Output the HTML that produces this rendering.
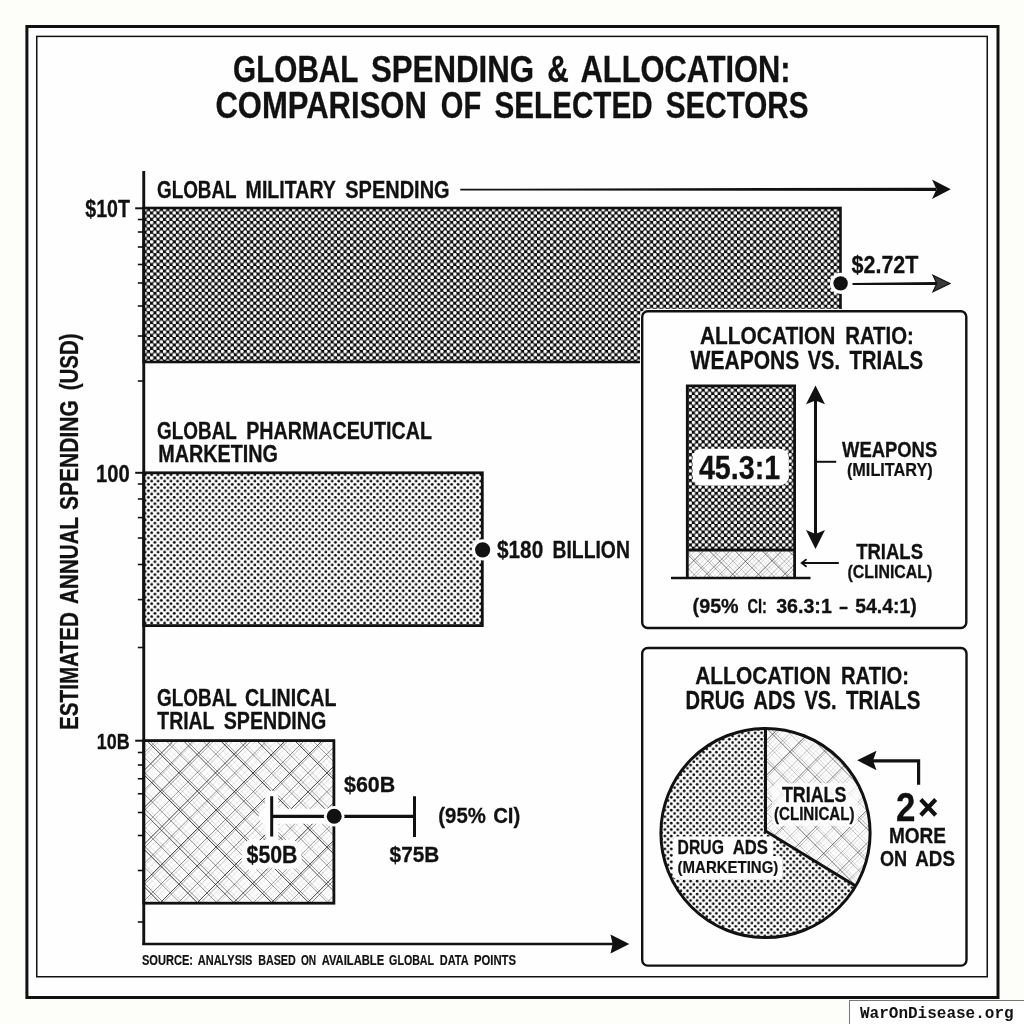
<!DOCTYPE html>
<html><head><meta charset="utf-8"><title>Global Spending &amp; Allocation</title>
<style>
html,body{margin:0;padding:0;background:#fdfdfa;}
body{width:1024px;height:1024px;overflow:hidden;font-family:"Liberation Sans",sans-serif;}
svg{display:block;will-change:transform;}
svg text{font-family:"Liberation Sans",sans-serif;}
.mono{font-family:"Liberation Mono",monospace;}
</style></head><body>
<svg width="1024" height="1024" viewBox="0 0 1024 1024">
<defs>
<pattern id="pMil" x="143.6" y="208" width="6.45" height="6.45" patternUnits="userSpaceOnUse">
<rect width="6.45" height="6.45" fill="#0c0c0c"/>
<circle cx="1.6125" cy="1.6125" r="1.8" fill="#fff"/><circle cx="4.8375" cy="4.8375" r="1.8" fill="#fff"/>
</pattern>
<pattern id="pDot" x="143.6" y="473" width="6.45" height="6.45" patternUnits="userSpaceOnUse">
<rect width="6.45" height="6.45" fill="#fefefe"/>
<circle cx="1.6125" cy="1.6125" r="1.4" fill="#0c0c0c"/><circle cx="4.8375" cy="4.8375" r="1.4" fill="#0c0c0c"/>
</pattern>
<pattern id="pPie" x="660" y="728" width="6.45" height="6.45" patternUnits="userSpaceOnUse">
<rect width="6.45" height="6.45" fill="#fefefe"/>
<circle cx="1.6125" cy="1.6125" r="1.36" fill="#0c0c0c"/><circle cx="4.8375" cy="4.8375" r="1.36" fill="#0c0c0c"/>
</pattern>
<pattern id="pX" width="26.2" height="26.2" patternUnits="userSpaceOnUse" patternTransform="translate(150,745) rotate(45)">
<rect width="26.2" height="26.2" fill="#fefefe"/>
<g stroke="#333" fill="none">
<path d="M1 0V26.2M0 1H26.2" stroke-width="0.85" stroke-opacity="0.8"/>
<path d="M4.2 0V26.2M0 4.2H26.2" stroke-width="0.6" stroke-opacity="0.5"/>
<path d="M8 0V26.2M0 8H26.2" stroke-width="0.5" stroke-opacity="0.3"/>
<path d="M14 0V26.2M0 14H26.2" stroke-width="0.7" stroke-opacity="0.6"/>
<path d="M17.5 0V26.2M0 17.5H26.2" stroke-width="0.5" stroke-opacity="0.35"/>
<path d="M22 0V26.2M0 22H26.2" stroke-width="0.5" stroke-opacity="0.25"/>
</g>
</pattern>
<pattern id="pXs" width="18" height="18" patternUnits="userSpaceOnUse" patternTransform="translate(690,552) rotate(45)">
<rect width="18" height="18" fill="#fefefe"/>
<g stroke="#333" fill="none">
<path d="M1 0V18M0 1H18" stroke-width="0.8" stroke-opacity="0.75"/>
<path d="M4 0V18M0 4H18" stroke-width="0.6" stroke-opacity="0.45"/>
<path d="M9.5 0V18M0 9.5H18" stroke-width="0.7" stroke-opacity="0.55"/>
<path d="M13 0V18M0 13H18" stroke-width="0.5" stroke-opacity="0.3"/>
</g>
</pattern>
</defs>
<rect width="1024" height="1024" fill="#fdfdfa"/>
<rect x="26.9" y="26.5" width="971.1" height="971.0" fill="#fefefe" stroke="#111" stroke-width="3"/>
<rect x="36.75" y="36.4" width="950.5" height="940.35" fill="none" stroke="#111" stroke-width="1.5"/>
<text transform="translate(233.10,81.70) scale(0.7976,1)" font-size="37.24" font-weight="700" fill="#111" stroke="#111" stroke-width="0.3"  word-spacing="2.98">GLOBAL</text>
<text transform="translate(370.90,81.70) scale(0.8397,1)" font-size="37.24" font-weight="700" fill="#111" stroke="#111" stroke-width="0.3"  word-spacing="2.98">SPENDING</text>
<text transform="translate(547.20,81.70) scale(0.8029,1)" font-size="37.24" font-weight="700" fill="#111" stroke="#111" stroke-width="0.3"  word-spacing="2.98">&amp;</text>
<text transform="translate(580.60,81.70) scale(0.8278,1)" font-size="37.24" font-weight="700" fill="#111" stroke="#111" stroke-width="0.3"  word-spacing="2.98">ALLOCATION:</text>
<text transform="translate(215.40,117.95) scale(0.8384,1)" font-size="37.02" font-weight="700" fill="#111" stroke="#111" stroke-width="0.3"  word-spacing="2.96">COMPARISON</text>
<text transform="translate(440.80,117.95) scale(0.7846,1)" font-size="37.02" font-weight="700" fill="#111" stroke="#111" stroke-width="0.3"  word-spacing="2.96">OF</text>
<text transform="translate(494.60,117.95) scale(0.8000,1)" font-size="37.02" font-weight="700" fill="#111" stroke="#111" stroke-width="0.3"  word-spacing="2.96">SELECTED</text>
<text transform="translate(665.70,117.95) scale(0.8012,1)" font-size="37.02" font-weight="700" fill="#111" stroke="#111" stroke-width="0.3"  word-spacing="2.96">SECTORS</text>
<rect x="143.75" y="208" width="696.75" height="154" fill="url(#pMil)" stroke="#111" stroke-width="2.6"/>
<rect x="143.75" y="472.8" width="338.55" height="152.8" fill="url(#pDot)" stroke="#111" stroke-width="2.8"/>
<clipPath id="cClin"><rect x="143.75" y="740.6" width="190.14999999999998" height="162.60000000000002"/></clipPath>
<g clip-path="url(#cClin)"><path d="M143.8 927.0L333.9 1117.2M143.8 872.8L333.9 1063.0M143.8 835.0L333.9 1025.1M143.8 798.4L333.9 988.5M143.8 778.9L333.9 969.1M143.8 761.1L333.9 951.2M143.8 687.0L333.9 877.2M143.8 669.0L333.9 859.2M143.8 634.8L333.9 825.0M143.8 612.9L333.9 803.1M143.8 557.8L333.9 748.0M143.8 538.6L333.9 728.7M143.8 519.6L333.9 709.7M143.8 502.7L333.9 692.8M143.8 784.1L333.9 594.0M143.8 858.7L333.9 668.5M143.8 878.4L333.9 688.3M143.8 914.0L333.9 723.8M143.8 952.2L333.9 762.1M143.8 989.2L333.9 799.0M143.8 1080.3L333.9 890.1" stroke="#1a1a1a" stroke-opacity="0.08" stroke-width="0.52" fill="none"/>
<path d="M143.8 951.5L333.9 1141.7M143.8 914.5L333.9 1104.6M143.8 783.1L333.9 973.2M143.8 767.1L333.9 957.2M143.8 650.5L333.9 840.6M143.8 969.0L333.9 778.9" stroke="#1a1a1a" stroke-opacity="0.09" stroke-width="0.53" fill="none"/>
<path d="M143.8 877.1L333.9 1067.3M143.8 704.5L333.9 894.6M143.8 766.4L333.9 576.2M143.8 778.5L333.9 588.4M143.8 822.1L333.9 631.9" stroke="#1a1a1a" stroke-opacity="0.1" stroke-width="0.53" fill="none"/>
<path d="M143.8 853.5L333.9 1043.6M143.8 819.9L333.9 1010.1M143.8 815.7L333.9 1005.9M143.8 597.7L333.9 787.8M143.8 581.7L333.9 771.9M143.8 927.9L333.9 737.7M143.8 1007.5L333.9 817.4" stroke="#1a1a1a" stroke-opacity="0.11" stroke-width="0.54" fill="none"/>
<path d="M143.8 594.5L333.9 784.7M143.8 711.0L333.9 520.9M143.8 762.0L333.9 571.9M143.8 803.5L333.9 613.4M143.8 841.2L333.9 651.1M143.8 1025.7L333.9 835.6M143.8 1058.5L333.9 868.3M143.8 1075.4L333.9 885.2M143.8 1132.7L333.9 942.5" stroke="#1a1a1a" stroke-opacity="0.12" stroke-width="0.54" fill="none"/>
<path d="M143.8 908.8L333.9 1099.0M143.8 709.7L333.9 899.8M143.8 655.6L333.9 845.8M143.8 508.1L333.9 698.2M143.8 704.7L333.9 514.6M143.8 799.5L333.9 609.3M143.8 1136.3L333.9 946.2" stroke="#1a1a1a" stroke-opacity="0.13" stroke-width="0.54" fill="none"/>
<path d="M143.8 857.2L333.9 1047.4M143.8 724.2L333.9 914.3M143.8 631.1L333.9 821.3M143.8 560.8L333.9 750.9M143.8 837.2L333.9 647.1" stroke="#1a1a1a" stroke-opacity="0.14" stroke-width="0.55" fill="none"/>
<path d="M143.8 619.3L333.9 809.4M143.8 544.9L333.9 735.0M143.8 729.7L333.9 539.6" stroke="#1a1a1a" stroke-opacity="0.15" stroke-width="0.55" fill="none"/>
<path d="M143.8 930.7L333.9 1120.9M143.8 482.6L333.9 672.7M143.8 1000.6L333.9 810.4M143.8 1022.0L333.9 831.9M143.8 1038.9L333.9 848.8M143.8 1043.7L333.9 853.5M143.8 1117.7L333.9 927.6" stroke="#1a1a1a" stroke-opacity="0.16" stroke-width="0.56" fill="none"/>
<path d="M143.8 947.0L333.9 1137.2M143.8 889.9L333.9 1080.1M143.8 742.5L333.9 932.7M143.8 575.8L333.9 765.9M143.8 748.4L333.9 558.3M143.8 815.6L333.9 625.5M143.8 910.1L333.9 720.0M143.8 932.0L333.9 741.8M143.8 948.5L333.9 758.3M143.8 1063.1L333.9 872.9M143.8 1112.8L333.9 922.6" stroke="#1a1a1a" stroke-opacity="0.17" stroke-width="0.56" fill="none"/>
<path d="M143.8 729.5L333.9 919.7M143.8 693.5L333.9 883.7M143.8 896.0L333.9 705.9M143.8 984.3L333.9 794.2M143.8 1099.2L333.9 909.0" stroke="#1a1a1a" stroke-opacity="0.18" stroke-width="0.57" fill="none"/>
<path d="M143.8 486.6L333.9 676.8M143.8 853.1L333.9 663.0" stroke="#1a1a1a" stroke-opacity="0.19" stroke-width="0.57" fill="none"/>
<path d="M143.8 671.9L333.9 862.1M143.8 1095.5L333.9 905.3" stroke="#1a1a1a" stroke-opacity="0.2" stroke-width="0.57" fill="none"/>
<path d="M143.8 804.4L333.9 994.6M143.8 741.7L333.9 551.6M143.8 889.6L333.9 699.5" stroke="#1a1a1a" stroke-opacity="0.21" stroke-width="0.58" fill="none"/>
<path d="M143.8 893.9L333.9 1084.0M143.8 747.0L333.9 937.1M143.8 725.4L333.9 535.2M143.8 873.6L333.9 683.5" stroke="#1a1a1a" stroke-opacity="0.22" stroke-width="0.58" fill="none"/>
<path d="M143.8 524.4L333.9 714.5M143.8 964.6L333.9 774.5" stroke="#1a1a1a" stroke-opacity="0.23" stroke-width="0.59" fill="none"/>
<path d="M143.8 840.2L333.9 1030.3" stroke="#1a1a1a" stroke-opacity="0.24" stroke-width="0.59" fill="none"/>
<path d="M143.8 789.2L333.9 979.3M143.8 493.3L333.9 683.4" stroke="#1a1a1a" stroke-opacity="0.25" stroke-width="0.59" fill="none"/>
<path d="M143.8 752.6L333.9 942.7" stroke="#1a1a1a" stroke-opacity="0.26" stroke-width="0.60" fill="none"/>
<path d="M143.8 977.8L333.9 787.7" stroke="#1a1a1a" stroke-opacity="0.27" stroke-width="0.60" fill="none"/>
<path d="M143.8 863.5L333.9 1053.7M143.8 719.4L333.9 529.3" stroke="#1a1a1a" stroke-opacity="0.29" stroke-width="0.61" fill="none"/>
<path d="M143.8 678.5L333.9 868.6M143.8 642.1L333.9 832.2M143.8 1088.7L333.9 898.6" stroke="#1a1a1a" stroke-opacity="0.3" stroke-width="0.62" fill="none"/>
<path d="M143.8 604.2L333.9 794.4M143.8 866.6L333.9 676.4" stroke="#1a1a1a" stroke-opacity="0.31" stroke-width="0.62" fill="none"/>
<path d="M143.8 937.0L333.9 1127.1M143.8 900.2L333.9 1090.3M143.8 792.6L333.9 602.4" stroke="#1a1a1a" stroke-opacity="0.32" stroke-width="0.62" fill="none"/>
<path d="M143.8 826.1L333.9 1016.3M143.8 904.6L333.9 714.5M143.8 1051.8L333.9 861.6" stroke="#1a1a1a" stroke-opacity="0.33" stroke-width="0.63" fill="none"/>
<path d="M143.8 567.3L333.9 757.4M143.8 830.0L333.9 639.9" stroke="#1a1a1a" stroke-opacity="0.34" stroke-width="0.63" fill="none"/>
<path d="M143.8 715.9L333.9 906.0M143.8 1015.6L333.9 825.4" stroke="#1a1a1a" stroke-opacity="0.36" stroke-width="0.64" fill="none"/>
<path d="M143.8 941.5L333.9 751.4" stroke="#1a1a1a" stroke-opacity="0.37" stroke-width="0.65" fill="none"/>
<path d="M143.8 756.5L333.9 566.3" stroke="#1a1a1a" stroke-opacity="0.38" stroke-width="0.65" fill="none"/>
<path d="M143.8 1126.6L333.9 936.5" stroke="#1a1a1a" stroke-opacity="0.39" stroke-width="0.65" fill="none"/>
<path d="M143.8 530.1L333.9 720.3" stroke="#1a1a1a" stroke-opacity="0.4" stroke-width="0.66" fill="none"/>
<path d="M143.8 904.6L333.9 1094.7M143.8 753.3L333.9 563.1M143.8 774.8L333.9 584.6" stroke="#1a1a1a" stroke-opacity="0.52" stroke-width="0.71" fill="none"/>
<path d="M143.8 587.1L333.9 777.2M143.8 921.7L333.9 731.5M143.8 959.7L333.9 769.5" stroke="#1a1a1a" stroke-opacity="0.54" stroke-width="0.72" fill="none"/>
<path d="M143.8 826.1L333.9 635.9M143.8 1012.1L333.9 822.0" stroke="#1a1a1a" stroke-opacity="0.55" stroke-width="0.72" fill="none"/>
<path d="M143.8 941.6L333.9 1131.8M143.8 623.2L333.9 813.3M143.8 571.8L333.9 761.9M143.8 1048.2L333.9 858.1" stroke="#1a1a1a" stroke-opacity="0.56" stroke-width="0.73" fill="none"/>
<path d="M143.8 608.5L333.9 798.7M143.8 497.1L333.9 687.3M143.8 810.9L333.9 620.7" stroke="#1a1a1a" stroke-opacity="0.57" stroke-width="0.73" fill="none"/>
<path d="M143.8 1085.7L333.9 895.6M143.8 1123.3L333.9 933.2" stroke="#1a1a1a" stroke-opacity="0.58" stroke-width="0.73" fill="none"/>
<path d="M143.8 866.5L333.9 1056.7M143.8 756.7L333.9 946.9M143.8 682.0L333.9 872.2M143.8 661.0L333.9 851.2M143.8 549.9L333.9 740.0M143.8 885.0L333.9 694.8M143.8 996.1L333.9 806.0" stroke="#1a1a1a" stroke-opacity="0.59" stroke-width="0.74" fill="none"/>
<path d="M143.8 734.7L333.9 924.9M143.8 718.5L333.9 908.7M143.8 512.4L333.9 702.5" stroke="#1a1a1a" stroke-opacity="0.6" stroke-width="0.74" fill="none"/>
<path d="M143.8 697.8L333.9 887.9" stroke="#1a1a1a" stroke-opacity="0.61" stroke-width="0.75" fill="none"/>
<path d="M143.8 956.9L333.9 1147.0M143.8 645.5L333.9 835.6" stroke="#1a1a1a" stroke-opacity="0.62" stroke-width="0.75" fill="none"/>
<path d="M143.8 848.3L333.9 658.2M143.8 863.8L333.9 673.7M143.8 901.2L333.9 711.1" stroke="#1a1a1a" stroke-opacity="0.63" stroke-width="0.75" fill="none"/>
<path d="M143.8 919.6L333.9 1109.8M143.8 793.6L333.9 983.7M143.8 699.6L333.9 509.4M143.8 1032.7L333.9 842.6" stroke="#1a1a1a" stroke-opacity="0.64" stroke-width="0.76" fill="none"/>
<path d="M143.8 737.4L333.9 547.3M143.8 974.9L333.9 784.7M143.8 1107.3L333.9 917.1" stroke="#1a1a1a" stroke-opacity="0.65" stroke-width="0.76" fill="none"/>
<path d="M143.8 790.5L333.9 600.4M143.8 937.1L333.9 747.0M143.8 1070.2L333.9 880.1" stroke="#1a1a1a" stroke-opacity="0.66" stroke-width="0.77" fill="none"/>
<path d="M143.8 882.7L333.9 1072.9M143.8 845.4L333.9 1035.5M143.8 829.7L333.9 1019.8M143.8 535.0L333.9 725.2M143.8 715.6L333.9 525.5" stroke="#1a1a1a" stroke-opacity="0.67" stroke-width="0.77" fill="none"/>
<path d="M143.8 808.1L333.9 998.2M143.8 771.6L333.9 961.8" stroke="#1a1a1a" stroke-opacity="0.68" stroke-width="0.78" fill="none"/>
<path d="M143.8 701.2L333.9 891.3" stroke="#1a1a1a" stroke-opacity="0.87" stroke-width="0.86" fill="none"/>
<path d="M143.8 812.6L333.9 1002.7M143.8 919.2L333.9 729.0" stroke="#1a1a1a" stroke-opacity="0.88" stroke-width="0.86" fill="none"/>
<path d="M143.8 1030.4L333.9 840.2" stroke="#1a1a1a" stroke-opacity="0.89" stroke-width="0.86" fill="none"/>
<path d="M143.8 733.5L333.9 543.4" stroke="#1a1a1a" stroke-opacity="0.9" stroke-width="0.87" fill="none"/>
<path d="M143.8 627.6L333.9 817.7M143.8 552.8L333.9 742.9" stroke="#1a1a1a" stroke-opacity="0.91" stroke-width="0.87" fill="none"/>
<path d="M143.8 737.6L333.9 927.8M143.8 807.9L333.9 617.7M143.8 844.6L333.9 654.5M143.8 992.5L333.9 802.4" stroke="#1a1a1a" stroke-opacity="0.93" stroke-width="0.88" fill="none"/>
<path d="M143.8 589.6L333.9 779.8" stroke="#1a1a1a" stroke-opacity="0.94" stroke-width="0.88" fill="none"/>
<path d="M143.8 770.6L333.9 580.5M143.8 956.2L333.9 766.0" stroke="#1a1a1a" stroke-opacity="0.95" stroke-width="0.89" fill="none"/>
<path d="M143.8 960.7L333.9 1150.8M143.8 697.4L333.9 507.2" stroke="#1a1a1a" stroke-opacity="0.96" stroke-width="0.89" fill="none"/>
<path d="M143.8 1103.7L333.9 913.6" stroke="#1a1a1a" stroke-opacity="0.97" stroke-width="0.90" fill="none"/>
<path d="M143.8 1066.4L333.9 876.3" stroke="#1a1a1a" stroke-opacity="0.98" stroke-width="0.90" fill="none"/>
<path d="M143.8 886.4L333.9 1076.6M143.8 515.9L333.9 706.0M143.8 882.4L333.9 692.2" stroke="#1a1a1a" stroke-opacity="1.0" stroke-width="0.91" fill="none"/>
<path d="M143.8 923.0L333.9 1113.2M143.8 849.1L333.9 1039.3" stroke="#1a1a1a" stroke-opacity="1.01" stroke-width="0.91" fill="none"/>
<path d="M143.8 664.0L333.9 854.1" stroke="#1a1a1a" stroke-opacity="1.02" stroke-width="0.92" fill="none"/>
<path d="M143.8 774.6L333.9 964.8" stroke="#1a1a1a" stroke-opacity="1.03" stroke-width="0.92" fill="none"/>
</g>
<rect x="143.75" y="740.6" width="190.14999999999998" height="162.60000000000002" fill="none" stroke="#111" stroke-width="2.8"/>
<path d="M143.75 171V945.1" stroke="#111" stroke-width="2.9" fill="none"/>
<path d="M142.35 944H614" stroke="#111" stroke-width="2.6" fill="none"/>
<path d="M629.3 944L610.5 934.6L612.6 944L610.5 953.4Z" fill="#111"/>
<path d="M135.2 208.3H143.75" stroke="#111" stroke-width="2"/>
<path d="M135.2 472.8H143.75" stroke="#111" stroke-width="2"/>
<path d="M135.2 740.7H143.75" stroke="#111" stroke-width="2"/>
<path d="M137.8 219.5H143.75" stroke="#111" stroke-width="1.6"/>
<path d="M137.8 232H143.75" stroke="#111" stroke-width="1.6"/>
<path d="M137.8 247H143.75" stroke="#111" stroke-width="1.6"/>
<path d="M137.8 264.5H143.75" stroke="#111" stroke-width="1.6"/>
<path d="M137.8 283H143.75" stroke="#111" stroke-width="1.6"/>
<path d="M137.8 306H143.75" stroke="#111" stroke-width="1.6"/>
<path d="M137.8 336H143.75" stroke="#111" stroke-width="1.6"/>
<path d="M137.8 381H143.75" stroke="#111" stroke-width="1.6"/>
<path d="M137.8 484H143.75" stroke="#111" stroke-width="1.6"/>
<path d="M137.8 499H143.75" stroke="#111" stroke-width="1.6"/>
<path d="M137.8 517.6H143.75" stroke="#111" stroke-width="1.6"/>
<path d="M137.8 538H143.75" stroke="#111" stroke-width="1.6"/>
<path d="M137.8 564.5H143.75" stroke="#111" stroke-width="1.6"/>
<path d="M137.8 599.6H143.75" stroke="#111" stroke-width="1.6"/>
<path d="M137.8 647.5H143.75" stroke="#111" stroke-width="1.6"/>
<path d="M137.8 752.5H143.75" stroke="#111" stroke-width="1.6"/>
<path d="M137.8 765H143.75" stroke="#111" stroke-width="1.6"/>
<path d="M137.8 778.75H143.75" stroke="#111" stroke-width="1.6"/>
<path d="M137.8 793.75H143.75" stroke="#111" stroke-width="1.6"/>
<path d="M137.8 812.5H143.75" stroke="#111" stroke-width="1.6"/>
<path d="M137.8 835.5H143.75" stroke="#111" stroke-width="1.6"/>
<path d="M137.8 870.5H143.75" stroke="#111" stroke-width="1.6"/>
<path d="M137.8 922H143.75" stroke="#111" stroke-width="1.6"/>
<text transform="translate(85.30,216.75) scale(0.8095,1)" font-size="24.22" font-weight="700" fill="#111" stroke="#111" stroke-width="0.3"  word-spacing="1.94">$10T</text>
<text transform="translate(96.10,481.75) scale(0.8446,1)" font-size="23.93" font-weight="700" fill="#111" stroke="#111" stroke-width="0.3"  word-spacing="1.91">100</text>
<text transform="translate(96.70,748.75) scale(0.7927,1)" font-size="22.62" font-weight="700" fill="#111" stroke="#111" stroke-width="0.3"  word-spacing="1.81">10B</text>
<text transform="translate(77.60,730.00) rotate(-90) scale(0.8176,1)" font-size="25.31" font-weight="700" fill="#111" stroke="#111" stroke-width="0.3" word-spacing="2.02">ESTIMATED</text>
<text transform="translate(77.60,603.90) rotate(-90) scale(0.8150,1)" font-size="25.31" font-weight="700" fill="#111" stroke="#111" stroke-width="0.3" word-spacing="2.02">ANNUAL</text>
<text transform="translate(77.60,510.10) rotate(-90) scale(0.8315,1)" font-size="25.31" font-weight="700" fill="#111" stroke="#111" stroke-width="0.3" word-spacing="2.02">SPENDING</text>
<text transform="translate(77.60,390.30) rotate(-90) scale(0.8080,1)" font-size="25.31" font-weight="700" fill="#111" stroke="#111" stroke-width="0.3" word-spacing="2.02">(USD)</text>
<text transform="translate(157.00,198.05) scale(0.7841,1)" font-size="24.07" font-weight="700" fill="#111" stroke="#111" stroke-width="0.3"  word-spacing="1.93">GLOBAL</text>
<text transform="translate(245.60,198.05) scale(0.8137,1)" font-size="24.07" font-weight="700" fill="#111" stroke="#111" stroke-width="0.3"  word-spacing="1.93">MILITARY</text>
<text transform="translate(345.30,198.05) scale(0.8304,1)" font-size="24.07" font-weight="700" fill="#111" stroke="#111" stroke-width="0.3"  word-spacing="1.93">SPENDING</text>
<text transform="translate(157.00,438.75) scale(0.8156,1)" font-size="23.20" font-weight="700" fill="#111" stroke="#111" stroke-width="0.3"  word-spacing="1.86">GLOBAL</text>
<text transform="translate(246.20,438.75) scale(0.8479,1)" font-size="23.20" font-weight="700" fill="#111" stroke="#111" stroke-width="0.3"  word-spacing="1.86">PHARMACEUTICAL</text>
<text transform="translate(158.20,461.75) scale(0.8528,1)" font-size="23.20" font-weight="700" fill="#111" stroke="#111" stroke-width="0.3"  word-spacing="1.86">MARKETING</text>
<text transform="translate(157.00,705.75) scale(0.8156,1)" font-size="23.20" font-weight="700" fill="#111" stroke="#111" stroke-width="0.3"  word-spacing="1.86">GLOBAL</text>
<text transform="translate(245.00,705.75) scale(0.8454,1)" font-size="23.20" font-weight="700" fill="#111" stroke="#111" stroke-width="0.3"  word-spacing="1.86">CLINICAL</text>
<text transform="translate(157.30,728.75) scale(0.8372,1)" font-size="23.20" font-weight="700" fill="#111" stroke="#111" stroke-width="0.3"  word-spacing="1.86">TRIAL</text>
<text transform="translate(223.70,728.75) scale(0.8468,1)" font-size="23.20" font-weight="700" fill="#111" stroke="#111" stroke-width="0.3"  word-spacing="1.86">SPENDING</text>
<path d="M460.3 188.8L936 187.7V191L460.3 190.4Z" fill="#111"/>
<path d="M950.8 189.3L932 179.6L936.5 189.3L932 199Z" fill="#111"/>
<path d="M852.5 282.9L936 282.1V285L852.5 284.9Z" fill="#111"/>
<path d="M950 283.5L933 275.2L936.8 283.5L933 291.8Z" fill="#3a3a3a" stroke="#111" stroke-width="1.2" stroke-linejoin="miter"/>
<circle cx="840.6" cy="283.4" r="10.6" fill="#fefefe"/><circle cx="840.6" cy="283.4" r="7.2" fill="#111"/>
<text transform="translate(851.60,273.30) scale(0.8889,1)" font-size="24.15" font-weight="700" fill="#111" stroke="#111" stroke-width="0.3"  word-spacing="1.93">$2.72T</text>
<circle cx="482.6" cy="549.85" r="10.6" fill="#fefefe"/><circle cx="482.6" cy="549.85" r="7.6" fill="#111"/>
<text transform="translate(497.00,558.15) scale(0.8678,1)" font-size="23.93" font-weight="700" fill="#111" stroke="#111" stroke-width="0.3"  word-spacing="1.91">$180</text>
<text transform="translate(552.50,558.15) scale(0.8087,1)" font-size="23.93" font-weight="700" fill="#111" stroke="#111" stroke-width="0.3"  word-spacing="1.91">BILLION</text>
<path d="M266 816.2H330" stroke="#fefefe" stroke-width="15" fill="none" stroke-linecap="round"/>
<path d="M271.7 797V835" stroke="#fefefe" stroke-width="13" fill="none" stroke-linecap="round"/>
<path d="M271.7 816.4H414.5" stroke="#111" stroke-width="3.1" fill="none"/>
<path d="M271.7 796.2V836.4M414.5 796.2V837" stroke="#111" stroke-width="3" fill="none"/>
<circle cx="334.2" cy="816.3" r="10.3" fill="#fefefe"/><circle cx="334.2" cy="816.3" r="7.5" fill="#111"/>
<text transform="translate(344.00,791.85) scale(0.9533,1)" font-size="22.47" font-weight="700" fill="#111" stroke="#111" stroke-width="0.3"  word-spacing="1.80">$60B</text>
<text transform="translate(246.60,862.70) scale(0.8820,1)" font-size="24.15" font-weight="700" fill="#fefefe" stroke="#fefefe" stroke-width="12" stroke-linejoin="round"  word-spacing="1.93">$50B</text>
<text transform="translate(246.60,862.70) scale(0.8820,1)" font-size="24.15" font-weight="700" fill="#111" stroke="#111" stroke-width="0.3"  word-spacing="1.93">$50B</text>
<text transform="translate(389.60,861.80) scale(0.9468,1)" font-size="21.96" font-weight="700" fill="#111" stroke="#111" stroke-width="0.3"  word-spacing="1.76">$75B</text>
<text transform="translate(438.30,823.30) scale(0.9095,1)" font-size="22.40" font-weight="700" fill="#111" stroke="#111" stroke-width="0.3"  word-spacing="1.79">(95% CI)</text>
<text transform="translate(142.00,964.95) scale(0.7564,1)" font-size="14.62" font-weight="700" fill="#111" stroke="#111" stroke-width="0.2"  word-spacing="1.17">SOURCE:</text>
<text transform="translate(197.80,964.95) scale(0.7523,1)" font-size="14.62" font-weight="700" fill="#111" stroke="#111" stroke-width="0.2"  word-spacing="1.17">ANALYSIS</text>
<text transform="translate(258.20,964.95) scale(0.7329,1)" font-size="14.62" font-weight="700" fill="#111" stroke="#111" stroke-width="0.2"  word-spacing="1.17">BASED</text>
<text transform="translate(300.90,964.95) scale(0.6932,1)" font-size="14.62" font-weight="700" fill="#111" stroke="#111" stroke-width="0.2"  word-spacing="1.17">ON</text>
<text transform="translate(321.70,964.95) scale(0.7681,1)" font-size="14.62" font-weight="700" fill="#111" stroke="#111" stroke-width="0.2"  word-spacing="1.17">AVAILABLE</text>
<text transform="translate(389.10,964.95) scale(0.7290,1)" font-size="14.62" font-weight="700" fill="#111" stroke="#111" stroke-width="0.2"  word-spacing="1.17">GLOBAL</text>
<text transform="translate(439.80,964.95) scale(0.7491,1)" font-size="14.62" font-weight="700" fill="#111" stroke="#111" stroke-width="0.2"  word-spacing="1.17">DATA</text>
<text transform="translate(473.90,964.95) scale(0.7755,1)" font-size="14.62" font-weight="700" fill="#111" stroke="#111" stroke-width="0.2"  word-spacing="1.17">POINTS</text>
<rect x="642.2" y="311.3" width="324.0999999999999" height="316.7" rx="5.5" fill="#fefefe" stroke="#fefefe" stroke-width="4.5"/>
<rect x="642.2" y="311.3" width="324.0999999999999" height="316.7" rx="5.5" fill="#fefefe" stroke="#111" stroke-width="2.4"/>
<text transform="translate(700.00,344.40) scale(0.8494,1)" font-size="24.58" font-weight="700" fill="#111" stroke="#111" stroke-width="0.3"  word-spacing="1.97">ALLOCATION</text>
<text transform="translate(845.20,344.40) scale(0.8281,1)" font-size="24.58" font-weight="700" fill="#111" stroke="#111" stroke-width="0.3"  word-spacing="1.97">RATIO:</text>
<text transform="translate(690.60,368.50) scale(0.8416,1)" font-size="25.02" font-weight="700" fill="#111" stroke="#111" stroke-width="0.3"  word-spacing="2.00">WEAPONS</text>
<text transform="translate(807.80,368.50) scale(0.7982,1)" font-size="25.02" font-weight="700" fill="#111" stroke="#111" stroke-width="0.3"  word-spacing="2.00">VS.</text>
<text transform="translate(849.40,368.50) scale(0.8160,1)" font-size="25.02" font-weight="700" fill="#111" stroke="#111" stroke-width="0.3"  word-spacing="2.00">TRIALS</text>
<rect x="687.3" y="385.8" width="107.70000000000005" height="164.2" fill="url(#pMil)"/>
<clipPath id="cIns"><rect x="687.3" y="550" width="107.70000000000005" height="28"/></clipPath>
<g clip-path="url(#cIns)"><path d="M687.3 480.0L795.0 587.7" stroke="#1a1a1a" stroke-opacity="0.08" stroke-width="0.49" fill="none"/>
<path d="M687.3 584.2L795.0 691.9M687.3 558.3L795.0 666.0M687.3 403.5L795.0 511.2" stroke="#1a1a1a" stroke-opacity="0.09" stroke-width="0.49" fill="none"/>
<path d="M687.3 589.2L795.0 481.5" stroke="#1a1a1a" stroke-opacity="0.12" stroke-width="0.50" fill="none"/>
<path d="M687.3 537.1L795.0 429.4M687.3 550.2L795.0 442.5M687.3 562.6L795.0 454.9M687.3 719.5L795.0 611.8" stroke="#1a1a1a" stroke-opacity="0.14" stroke-width="0.51" fill="none"/>
<path d="M687.3 573.1L795.0 680.8M687.3 546.8L795.0 654.5M687.3 693.2L795.0 585.5" stroke="#1a1a1a" stroke-opacity="0.15" stroke-width="0.51" fill="none"/>
<path d="M687.3 519.7L795.0 627.4M687.3 507.1L795.0 614.8" stroke="#1a1a1a" stroke-opacity="0.17" stroke-width="0.52" fill="none"/>
<path d="M687.3 532.7L795.0 640.4M687.3 641.6L795.0 533.9" stroke="#1a1a1a" stroke-opacity="0.18" stroke-width="0.53" fill="none"/>
<path d="M687.3 455.3L795.0 563.0" stroke="#1a1a1a" stroke-opacity="0.19" stroke-width="0.53" fill="none"/>
<path d="M687.3 493.8L795.0 601.5M687.3 667.4L795.0 559.7" stroke="#1a1a1a" stroke-opacity="0.2" stroke-width="0.53" fill="none"/>
<path d="M687.3 468.5L795.0 576.2M687.3 524.5L795.0 416.8M687.3 615.7L795.0 508.0M687.3 652.9L795.0 545.2" stroke="#1a1a1a" stroke-opacity="0.21" stroke-width="0.54" fill="none"/>
<path d="M687.3 429.5L795.0 537.2M687.3 602.4L795.0 494.7" stroke="#1a1a1a" stroke-opacity="0.22" stroke-width="0.54" fill="none"/>
<path d="M687.3 511.9L795.0 619.6M687.3 485.0L795.0 592.7" stroke="#1a1a1a" stroke-opacity="0.23" stroke-width="0.54" fill="none"/>
<path d="M687.3 442.3L795.0 550.0M687.3 628.0L795.0 520.3M687.3 706.0L795.0 598.3" stroke="#1a1a1a" stroke-opacity="0.24" stroke-width="0.55" fill="none"/>
<path d="M687.3 562.9L795.0 670.6M687.3 407.6L795.0 515.3M687.3 679.5L795.0 571.8" stroke="#1a1a1a" stroke-opacity="0.25" stroke-width="0.55" fill="none"/>
<path d="M687.3 576.5L795.0 468.8M687.3 610.0L795.0 502.3" stroke="#1a1a1a" stroke-opacity="0.26" stroke-width="0.56" fill="none"/>
<path d="M687.3 597.9L795.0 705.6M687.3 416.6L795.0 524.3" stroke="#1a1a1a" stroke-opacity="0.27" stroke-width="0.56" fill="none"/>
<path d="M687.3 636.3L795.0 528.6" stroke="#1a1a1a" stroke-opacity="0.3" stroke-width="0.57" fill="none"/>
<path d="M687.3 715.1L795.0 607.4" stroke="#1a1a1a" stroke-opacity="0.31" stroke-width="0.58" fill="none"/>
<path d="M687.3 588.6L795.0 696.3" stroke="#1a1a1a" stroke-opacity="0.32" stroke-width="0.58" fill="none"/>
<path d="M687.3 518.7L795.0 411.0" stroke="#1a1a1a" stroke-opacity="0.33" stroke-width="0.58" fill="none"/>
<path d="M687.3 584.7L795.0 477.0" stroke="#1a1a1a" stroke-opacity="0.34" stroke-width="0.59" fill="none"/>
<path d="M687.3 532.9L795.0 425.2M687.3 558.9L795.0 451.2M687.3 662.6L795.0 554.9" stroke="#1a1a1a" stroke-opacity="0.35" stroke-width="0.59" fill="none"/>
<path d="M687.3 432.8L795.0 540.5" stroke="#1a1a1a" stroke-opacity="0.36" stroke-width="0.60" fill="none"/>
<path d="M687.3 537.6L795.0 645.3M687.3 499.1L795.0 606.8M687.3 459.8L795.0 567.5M687.3 689.5L795.0 581.8" stroke="#1a1a1a" stroke-opacity="0.37" stroke-width="0.60" fill="none"/>
<path d="M687.3 447.0L795.0 554.7" stroke="#1a1a1a" stroke-opacity="0.38" stroke-width="0.60" fill="none"/>
<path d="M687.3 570.9L795.0 463.2" stroke="#1a1a1a" stroke-opacity="0.39" stroke-width="0.61" fill="none"/>
<path d="M687.3 544.5L795.0 436.8M687.3 701.9L795.0 594.2" stroke="#1a1a1a" stroke-opacity="0.4" stroke-width="0.61" fill="none"/>
<path d="M687.3 576.7L795.0 684.4M687.3 649.4L795.0 541.7" stroke="#1a1a1a" stroke-opacity="0.41" stroke-width="0.61" fill="none"/>
<path d="M687.3 464.1L795.0 571.8M687.3 623.6L795.0 515.9" stroke="#1a1a1a" stroke-opacity="0.43" stroke-width="0.62" fill="none"/>
<path d="M687.3 515.5L795.0 623.2M687.3 473.6L795.0 581.3M687.3 675.6L795.0 567.9M687.3 711.1L795.0 603.4" stroke="#1a1a1a" stroke-opacity="0.45" stroke-width="0.63" fill="none"/>
<path d="M687.3 551.6L795.0 659.3M687.3 528.5L795.0 420.8" stroke="#1a1a1a" stroke-opacity="0.46" stroke-width="0.63" fill="none"/>
<path d="M687.3 602.3L795.0 710.0M687.3 524.5L795.0 632.2M687.3 420.6L795.0 528.3M687.3 411.2L795.0 518.9M687.3 606.7L795.0 499.0" stroke="#1a1a1a" stroke-opacity="0.47" stroke-width="0.64" fill="none"/>
<path d="M687.3 597.0L795.0 489.3" stroke="#1a1a1a" stroke-opacity="0.48" stroke-width="0.64" fill="none"/>
<path d="M687.3 594.1L795.0 701.8M687.3 581.5L795.0 473.8" stroke="#1a1a1a" stroke-opacity="0.49" stroke-width="0.65" fill="none"/>
<path d="M687.3 489.6L795.0 597.3" stroke="#1a1a1a" stroke-opacity="0.5" stroke-width="0.65" fill="none"/>
<path d="M687.3 632.5L795.0 524.8M687.3 658.3L795.0 550.6M687.3 685.3L795.0 577.6" stroke="#1a1a1a" stroke-opacity="0.53" stroke-width="0.66" fill="none"/>
<path d="M687.3 437.9L795.0 545.6" stroke="#1a1a1a" stroke-opacity="0.54" stroke-width="0.67" fill="none"/>
<path d="M687.3 540.5L795.0 648.2" stroke="#1a1a1a" stroke-opacity="0.56" stroke-width="0.67" fill="none"/>
<path d="M687.3 567.7L795.0 675.4M687.3 555.1L795.0 447.4" stroke="#1a1a1a" stroke-opacity="0.57" stroke-width="0.68" fill="none"/>
<path d="M687.3 554.1L795.0 661.8M687.3 593.5L795.0 485.8" stroke="#1a1a1a" stroke-opacity="0.69" stroke-width="0.72" fill="none"/>
<path d="M687.3 580.3L795.0 688.0" stroke="#1a1a1a" stroke-opacity="0.71" stroke-width="0.73" fill="none"/>
<path d="M687.3 425.0L795.0 532.7" stroke="#1a1a1a" stroke-opacity="0.72" stroke-width="0.74" fill="none"/>
<path d="M687.3 671.5L795.0 563.8" stroke="#1a1a1a" stroke-opacity="0.77" stroke-width="0.76" fill="none"/>
<path d="M687.3 503.1L795.0 610.8" stroke="#1a1a1a" stroke-opacity="0.78" stroke-width="0.76" fill="none"/>
<path d="M687.3 606.1L795.0 713.8" stroke="#1a1a1a" stroke-opacity="0.79" stroke-width="0.76" fill="none"/>
<path d="M687.3 619.5L795.0 511.8M687.3 697.2L795.0 589.5" stroke="#1a1a1a" stroke-opacity="0.8" stroke-width="0.77" fill="none"/>
<path d="M687.3 475.9L795.0 583.6M687.3 567.1L795.0 459.4" stroke="#1a1a1a" stroke-opacity="0.81" stroke-width="0.77" fill="none"/>
<path d="M687.3 528.8L795.0 636.5M687.3 449.6L795.0 557.3M687.3 541.0L795.0 433.3M687.3 645.4L795.0 537.7" stroke="#1a1a1a" stroke-opacity="0.82" stroke-width="0.77" fill="none"/>
<path d="M687.3 516.0L795.0 408.3" stroke="#1a1a1a" stroke-opacity="0.83" stroke-width="0.78" fill="none"/>
</g>
<path d="M687.3 578V385.8H794.6V578M687.3 550H794.6" stroke="#111" stroke-width="2.8" fill="none"/>
<path d="M671 578H810.5" stroke="#111" stroke-width="2.5" fill="none"/>
<rect x="692.5" y="448.7" width="96.29999999999995" height="36.80000000000001" rx="9" fill="#fefefe"/>
<text transform="translate(698.90,478.50) scale(0.8509,1)" font-size="33.75" font-weight="700" fill="#111" stroke="#111" stroke-width="0.3"  word-spacing="2.70">45.3:1</text>
<path d="M815.5 400V535" stroke="#111" stroke-width="3" fill="none"/>
<path d="M815.5 385.5L806 404.2L815.5 400.5L825 404.2Z" fill="#111"/>
<path d="M815.5 549L806 530L815.5 534L825 530Z" fill="#111"/>
<path d="M815.5 461.8H836.2" stroke="#111" stroke-width="2" fill="none"/>
<path d="M802 563H838.8" stroke="#111" stroke-width="1.8" fill="none"/>
<path d="M806.6 559.2L801.6 563L806.6 566.8" stroke="#111" stroke-width="1.7" fill="none"/>
<text transform="translate(842.00,457.20) scale(0.8444,1)" font-size="21.82" font-weight="700" fill="#111" stroke="#111" stroke-width="0.3"  word-spacing="1.75">WEAPONS</text>
<text transform="translate(846.90,476.40) scale(0.9098,1)" font-size="17.89" font-weight="700" fill="#111" stroke="#111" stroke-width="0.2"  word-spacing="1.43">(MILITARY)</text>
<text transform="translate(856.20,558.50) scale(0.8481,1)" font-size="21.82" font-weight="700" fill="#111" stroke="#111" stroke-width="0.3"  word-spacing="1.75">TRIALS</text>
<text transform="translate(847.50,577.70) scale(0.8697,1)" font-size="18.33" font-weight="700" fill="#111" stroke="#111" stroke-width="0.3"  word-spacing="1.47">(CLINICAL)</text>
<text transform="translate(692.60,613.40) scale(0.9980,1)" font-size="19.78" font-weight="700" fill="#111" stroke="#111" stroke-width="0.3"  word-spacing="1.58">(95%</text>
<text transform="translate(747.40,613.40) scale(0.7398,1)" font-size="19.78" font-weight="700" fill="#111" stroke="#111" stroke-width="0.3"  word-spacing="1.58">CI:</text>
<text transform="translate(776.20,613.40) scale(0.9914,1)" font-size="19.78" font-weight="700" fill="#111" stroke="#111" stroke-width="0.3"  word-spacing="1.58">36.3:1</text>
<text transform="translate(839.30,613.40) scale(0.7833,1)" font-size="19.78" font-weight="700" fill="#111" stroke="#111" stroke-width="0.3"  word-spacing="1.58">–</text>
<text transform="translate(855.20,613.40) scale(0.9831,1)" font-size="19.78" font-weight="700" fill="#111" stroke="#111" stroke-width="0.3"  word-spacing="1.58">54.4:1)</text>
<rect x="642.2" y="648" width="324.29999999999995" height="317.6" rx="5.5" fill="#fefefe" stroke="#111" stroke-width="2.4"/>
<text transform="translate(695.20,684.10) scale(0.8563,1)" font-size="24.44" font-weight="700" fill="#111" stroke="#111" stroke-width="0.3"  word-spacing="1.95">ALLOCATION</text>
<text transform="translate(841.00,684.10) scale(0.8270,1)" font-size="24.44" font-weight="700" fill="#111" stroke="#111" stroke-width="0.3"  word-spacing="1.95">RATIO:</text>
<text transform="translate(685.60,708.50) scale(0.8062,1)" font-size="25.02" font-weight="700" fill="#111" stroke="#111" stroke-width="0.3"  word-spacing="2.00">DRUG</text>
<text transform="translate(753.50,708.50) scale(0.7966,1)" font-size="25.02" font-weight="700" fill="#111" stroke="#111" stroke-width="0.3"  word-spacing="2.00">ADS</text>
<text transform="translate(804.40,708.50) scale(0.7982,1)" font-size="25.02" font-weight="700" fill="#111" stroke="#111" stroke-width="0.3"  word-spacing="2.00">VS.</text>
<text transform="translate(846.00,708.50) scale(0.8238,1)" font-size="25.02" font-weight="700" fill="#111" stroke="#111" stroke-width="0.3"  word-spacing="2.00">TRIALS</text>
<circle cx="765.5" cy="833.0" r="104.6" fill="url(#pPie)"/>
<path d="M765.5 831.0L765.5 728.4A104.6 104.6 0 0 1 855.63 886.09Z" fill="#fefefe"/>
<clipPath id="cPie"><path d="M765.5 831.0L765.5 728.4A104.6 104.6 0 0 1 855.63 886.09Z"/></clipPath>
<g clip-path="url(#cPie)"><path d="M765.5 917.9L870.1 1022.5M765.5 900.1L870.1 1004.7M765.5 870.6L870.1 975.2M765.5 866.9L870.1 971.5M765.5 854.9L870.1 959.5M765.5 836.3L870.1 940.9M765.5 822.3L870.1 926.9M765.5 802.4L870.1 907.0M765.5 781.7L870.1 886.3M765.5 734.6L870.1 839.2M765.5 730.6L870.1 835.2M765.5 696.7L870.1 801.3M765.5 667.3L870.1 771.9M765.5 663.0L870.1 767.6M765.5 651.4L870.1 756.0M765.5 627.9L870.1 732.5M765.5 618.1L870.1 722.7M765.5 612.5L870.1 717.1M765.5 599.3L870.1 703.9M765.5 563.8L870.1 668.4M765.5 718.8L870.1 614.2M765.5 767.0L870.1 662.4M765.5 770.9L870.1 666.3M765.5 804.7L870.1 700.1M765.5 820.8L870.1 716.2M765.5 873.4L870.1 768.8M765.5 889.8L870.1 785.2M765.5 907.9L870.1 803.3M765.5 937.6L870.1 833.0M765.5 957.7L870.1 853.1M765.5 971.3L870.1 866.7M765.5 975.2L870.1 870.6M765.5 1005.1L870.1 900.5M765.5 1026.2L870.1 921.6M765.5 1038.9L870.1 934.3" stroke="#1a1a1a" stroke-opacity="0.08" stroke-width="0.52" fill="none"/>
<path d="M765.5 764.2L870.1 868.8M765.5 594.6L870.1 699.2M765.5 560.3L870.1 664.9" stroke="#1a1a1a" stroke-opacity="0.09" stroke-width="0.53" fill="none"/>
<path d="M765.5 850.7L870.1 955.3M765.5 769.2L870.1 873.8M765.5 714.0L870.1 818.6M765.5 685.0L870.1 789.6M765.5 632.1L870.1 736.7M765.5 703.9L870.1 599.3M765.5 816.7L870.1 712.1M765.5 990.7L870.1 886.1" stroke="#1a1a1a" stroke-opacity="0.1" stroke-width="0.53" fill="none"/>
<path d="M765.5 904.2L870.1 1008.8M765.5 647.2L870.1 751.8M765.5 1009.4L870.1 904.8" stroke="#1a1a1a" stroke-opacity="0.11" stroke-width="0.54" fill="none"/>
<path d="M765.5 685.5L870.1 580.9M765.5 736.7L870.1 632.1M765.5 787.3L870.1 682.7" stroke="#1a1a1a" stroke-opacity="0.12" stroke-width="0.54" fill="none"/>
<path d="M765.5 753.4L870.1 858.0M765.5 680.8L870.1 576.2M765.5 714.8L870.1 610.2M765.5 733.5L870.1 628.9M765.5 869.7L870.1 765.1" stroke="#1a1a1a" stroke-opacity="0.13" stroke-width="0.54" fill="none"/>
<path d="M765.5 924.3L870.1 1028.9M765.5 884.7L870.1 989.3M765.5 832.4L870.1 937.0M765.5 782.4L870.1 677.8M765.5 850.7L870.1 746.1M765.5 1043.6L870.1 939.0" stroke="#1a1a1a" stroke-opacity="0.14" stroke-width="0.55" fill="none"/>
<path d="M765.5 798.3L870.1 902.9M765.5 754.3L870.1 649.7M765.5 840.1L870.1 735.5M765.5 855.3L870.1 750.7M765.5 923.2L870.1 818.6M765.5 940.7L870.1 836.1M765.5 1020.7L870.1 916.1" stroke="#1a1a1a" stroke-opacity="0.15" stroke-width="0.55" fill="none"/>
<path d="M765.5 816.5L870.1 921.1M765.5 699.1L870.1 594.5M765.5 884.0L870.1 779.4M765.5 985.7L870.1 881.1" stroke="#1a1a1a" stroke-opacity="0.17" stroke-width="0.56" fill="none"/>
<path d="M765.5 889.4L870.1 994.0M765.5 807.8L870.1 912.4M765.5 748.7L870.1 853.3M765.5 720.3L870.1 824.9M765.5 681.2L870.1 785.8M765.5 579.3L870.1 683.9M765.5 903.9L870.1 799.3" stroke="#1a1a1a" stroke-opacity="0.18" stroke-width="0.57" fill="none"/>
<path d="M765.5 841.3L870.1 945.9M765.5 700.9L870.1 805.5M765.5 801.4L870.1 696.8M765.5 836.1L870.1 731.5M765.5 1034.3L870.1 929.7" stroke="#1a1a1a" stroke-opacity="0.19" stroke-width="0.57" fill="none"/>
<path d="M765.5 796.0L870.1 691.4M765.5 918.5L870.1 813.9" stroke="#1a1a1a" stroke-opacity="0.2" stroke-width="0.57" fill="none"/>
<path d="M765.5 603.6L870.1 708.2M765.5 583.4L870.1 688.0" stroke="#1a1a1a" stroke-opacity="0.21" stroke-width="0.58" fill="none"/>
<path d="M765.5 787.9L870.1 892.5M765.5 739.5L870.1 844.1M765.5 748.6L870.1 644.0M765.5 932.3L870.1 827.7M765.5 953.0L870.1 848.4" stroke="#1a1a1a" stroke-opacity="0.22" stroke-width="0.58" fill="none"/>
<path d="M765.5 910.7L870.1 1015.3M765.5 727.3L870.1 622.7" stroke="#1a1a1a" stroke-opacity="0.23" stroke-width="0.59" fill="none"/>
<path d="M765.5 705.6L870.1 810.2M765.5 863.6L870.1 759.0" stroke="#1a1a1a" stroke-opacity="0.24" stroke-width="0.59" fill="none"/>
<path d="M765.5 570.0L870.1 674.6" stroke="#1a1a1a" stroke-opacity="0.26" stroke-width="0.60" fill="none"/>
<path d="M765.5 774.4L870.1 879.0M765.5 671.2L870.1 775.8M765.5 897.9L870.1 793.3" stroke="#1a1a1a" stroke-opacity="0.27" stroke-width="0.60" fill="none"/>
<path d="M765.5 638.1L870.1 742.7M765.5 965.4L870.1 860.8" stroke="#1a1a1a" stroke-opacity="0.28" stroke-width="0.61" fill="none"/>
<path d="M765.5 875.7L870.1 980.3M765.5 761.6L870.1 657.0M765.5 1000.7L870.1 896.1" stroke="#1a1a1a" stroke-opacity="0.29" stroke-width="0.61" fill="none"/>
<path d="M765.5 830.8L870.1 726.2" stroke="#1a1a1a" stroke-opacity="0.3" stroke-width="0.62" fill="none"/>
<path d="M765.5 693.8L870.1 589.2" stroke="#1a1a1a" stroke-opacity="0.31" stroke-width="0.62" fill="none"/>
<path d="M765.5 790.8L870.1 895.4M765.5 655.2L870.1 759.8M765.5 677.4L870.1 572.8M765.5 948.5L870.1 843.9" stroke="#1a1a1a" stroke-opacity="0.34" stroke-width="0.63" fill="none"/>
<path d="M765.5 688.7L870.1 793.3" stroke="#1a1a1a" stroke-opacity="0.35" stroke-width="0.64" fill="none"/>
<path d="M765.5 846.7L870.1 742.1" stroke="#1a1a1a" stroke-opacity="0.36" stroke-width="0.64" fill="none"/>
<path d="M765.5 743.4L870.1 848.0" stroke="#1a1a1a" stroke-opacity="0.37" stroke-width="0.65" fill="none"/>
<path d="M765.5 641.2L870.1 745.8M765.5 607.3L870.1 711.9M765.5 1017.4L870.1 912.8" stroke="#1a1a1a" stroke-opacity="0.38" stroke-width="0.65" fill="none"/>
<path d="M765.5 928.5L870.1 823.9" stroke="#1a1a1a" stroke-opacity="0.39" stroke-width="0.65" fill="none"/>
<path d="M765.5 620.4L870.1 725.0M765.5 724.7L870.1 620.1M765.5 860.3L870.1 755.7" stroke="#1a1a1a" stroke-opacity="0.4" stroke-width="0.66" fill="none"/>
<path d="M765.5 825.7L870.1 930.3M765.5 709.2L870.1 813.8M765.5 792.1L870.1 687.5M765.5 880.5L870.1 775.9M765.5 914.2L870.1 809.6M765.5 983.6L870.1 879.0" stroke="#1a1a1a" stroke-opacity="0.41" stroke-width="0.66" fill="none"/>
<path d="M765.5 880.1L870.1 984.7M765.5 711.2L870.1 606.6M765.5 894.7L870.1 790.1" stroke="#1a1a1a" stroke-opacity="0.42" stroke-width="0.67" fill="none"/>
<path d="M765.5 811.6L870.1 916.2M765.5 757.9L870.1 653.3" stroke="#1a1a1a" stroke-opacity="0.43" stroke-width="0.67" fill="none"/>
<path d="M765.5 846.3L870.1 950.9M765.5 778.8L870.1 674.2" stroke="#1a1a1a" stroke-opacity="0.44" stroke-width="0.67" fill="none"/>
<path d="M765.5 723.6L870.1 828.2M765.5 963.1L870.1 858.5" stroke="#1a1a1a" stroke-opacity="0.45" stroke-width="0.68" fill="none"/>
<path d="M765.5 927.6L870.1 1032.2M765.5 859.5L870.1 964.1M765.5 757.2L870.1 861.8M765.5 572.9L870.1 677.5M765.5 812.6L870.1 708.0" stroke="#1a1a1a" stroke-opacity="0.46" stroke-width="0.68" fill="none"/>
<path d="M765.5 913.4L870.1 1018.0M765.5 893.0L870.1 997.6M765.5 587.0L870.1 691.6M765.5 689.8L870.1 585.2M765.5 744.2L870.1 639.6" stroke="#1a1a1a" stroke-opacity="0.47" stroke-width="0.69" fill="none"/>
<path d="M765.5 997.1L870.1 892.5" stroke="#1a1a1a" stroke-opacity="0.48" stroke-width="0.69" fill="none"/>
<path d="M765.5 1030.0L870.1 925.4" stroke="#1a1a1a" stroke-opacity="0.49" stroke-width="0.70" fill="none"/>
<path d="M765.5 826.2L870.1 721.6" stroke="#1a1a1a" stroke-opacity="0.5" stroke-width="0.70" fill="none"/>
<path d="M765.5 777.2L870.1 881.8M765.5 676.0L870.1 780.6" stroke="#1a1a1a" stroke-opacity="0.52" stroke-width="0.71" fill="none"/>
<path d="M765.5 829.0L870.1 933.6" stroke="#1a1a1a" stroke-opacity="0.67" stroke-width="0.77" fill="none"/>
<path d="M765.5 760.1L870.1 864.7M765.5 708.1L870.1 603.5M765.5 810.0L870.1 705.4" stroke="#1a1a1a" stroke-opacity="0.68" stroke-width="0.78" fill="none"/>
<path d="M765.5 896.9L870.1 1001.5M765.5 844.2L870.1 739.6M765.5 944.8L870.1 840.2" stroke="#1a1a1a" stroke-opacity="0.69" stroke-width="0.78" fill="none"/>
<path d="M765.5 590.7L870.1 695.3" stroke="#1a1a1a" stroke-opacity="0.7" stroke-width="0.78" fill="none"/>
<path d="M765.5 877.3L870.1 772.7M765.5 911.6L870.1 807.0M765.5 1013.1L870.1 908.5" stroke="#1a1a1a" stroke-opacity="0.72" stroke-width="0.79" fill="none"/>
<path d="M765.5 930.6L870.1 1035.2M765.5 691.9L870.1 796.5" stroke="#1a1a1a" stroke-opacity="0.73" stroke-width="0.80" fill="none"/>
<path d="M765.5 795.2L870.1 899.8" stroke="#1a1a1a" stroke-opacity="0.76" stroke-width="0.81" fill="none"/>
<path d="M765.5 727.2L870.1 831.8M765.5 979.0L870.1 874.4" stroke="#1a1a1a" stroke-opacity="0.77" stroke-width="0.81" fill="none"/>
<path d="M765.5 624.2L870.1 728.8M765.5 673.2L870.1 568.6" stroke="#1a1a1a" stroke-opacity="0.79" stroke-width="0.82" fill="none"/>
<path d="M765.5 862.9L870.1 967.5M765.5 741.2L870.1 636.6" stroke="#1a1a1a" stroke-opacity="0.8" stroke-width="0.83" fill="none"/>
<path d="M765.5 658.3L870.1 762.9" stroke="#1a1a1a" stroke-opacity="0.82" stroke-width="0.83" fill="none"/>
<path d="M765.5 776.2L870.1 671.6" stroke="#1a1a1a" stroke-opacity="0.83" stroke-width="0.84" fill="none"/>
</g>
<path d="M765.5 728.4V831.0L855.63 886.09" stroke="#111" stroke-width="3" fill="none" stroke-linejoin="miter"/>
<circle cx="765.5" cy="833.0" r="104.6" fill="none" stroke="#111" stroke-width="3"/>
<rect x="772" y="783" width="86" height="43" rx="7" fill="#fefefe" fill-opacity="0.75"/>
<text transform="translate(781.90,801.90) scale(0.8356,1)" font-size="21.38" font-weight="700" fill="#fefefe" stroke="#fefefe" stroke-width="6" stroke-linejoin="round"  word-spacing="1.71">TRIALS</text>
<text transform="translate(781.90,801.90) scale(0.8356,1)" font-size="21.38" font-weight="700" fill="#111" stroke="#111" stroke-width="0.3"  word-spacing="1.71">TRIALS</text>
<text transform="translate(774.00,820.40) scale(0.8380,1)" font-size="18.04" font-weight="700" fill="#fefefe" stroke="#fefefe" stroke-width="6" stroke-linejoin="round"  word-spacing="1.44">(CLINICAL)</text>
<text transform="translate(774.00,820.40) scale(0.8380,1)" font-size="18.04" font-weight="700" fill="#111" stroke="#111" stroke-width="0.3"  word-spacing="1.44">(CLINICAL)</text>
<rect x="673" y="836.6" width="100" height="24" rx="4" fill="#fefefe"/><rect x="673" y="856" width="109.5" height="23" rx="4" fill="#fefefe"/>
<text transform="translate(677.60,854.30) scale(0.7776,1)" font-size="20.22" font-weight="700" fill="#fefefe" stroke="#fefefe" stroke-width="4" stroke-linejoin="round"  word-spacing="1.62">DRUG</text>
<text transform="translate(677.60,854.30) scale(0.7776,1)" font-size="20.22" font-weight="700" fill="#111" stroke="#111" stroke-width="0.3"  word-spacing="1.62">DRUG</text>
<text transform="translate(732.70,854.30) scale(0.8241,1)" font-size="20.22" font-weight="700" fill="#fefefe" stroke="#fefefe" stroke-width="4" stroke-linejoin="round"  word-spacing="1.62">ADS</text>
<text transform="translate(732.70,854.30) scale(0.8241,1)" font-size="20.22" font-weight="700" fill="#111" stroke="#111" stroke-width="0.3"  word-spacing="1.62">ADS</text>
<text transform="translate(677.60,873.00) scale(0.8663,1)" font-size="17.31" font-weight="700" fill="#fefefe" stroke="#fefefe" stroke-width="4" stroke-linejoin="round"  word-spacing="1.38">(MARKETING)</text>
<text transform="translate(677.60,873.00) scale(0.8663,1)" font-size="17.31" font-weight="700" fill="#111" stroke="#111" stroke-width="0.2"  word-spacing="1.38">(MARKETING)</text>
<path d="M872 760.8H918.6V784.8" stroke="#111" stroke-width="3.2" fill="none"/>
<path d="M857.2 760.3L876.5 750.8L873 760.5L876.5 770.3Z" fill="#111"/>
<text transform="translate(895.90,820.50) scale(0.8555,1)" font-size="40.86" font-weight="700" fill="#111" stroke="#111" stroke-width="0.3"  word-spacing="3.27">2</text>
<path d="M920.8 799.5L935.7 815.3M935.7 799.5L920.8 815.3" stroke="#111" stroke-width="4.2" fill="none"/>
<text transform="translate(888.90,843.25) scale(0.8652,1)" font-size="22.04" font-weight="700" fill="#111" stroke="#111" stroke-width="0.3"  word-spacing="1.76">MORE</text>
<text transform="translate(880.00,865.75) scale(0.8122,1)" font-size="22.33" font-weight="700" fill="#111" stroke="#111" stroke-width="0.3"  word-spacing="1.79">ON</text>
<text transform="translate(915.30,865.75) scale(0.8417,1)" font-size="22.33" font-weight="700" fill="#111" stroke="#111" stroke-width="0.3"  word-spacing="1.79">ADS</text>
<rect x="849.5" y="1000.5" width="176" height="25" fill="#fff" stroke="#777" stroke-width="1"/>
<text class="mono" x="860" y="1017.6" font-size="16" font-weight="700" fill="#111" textLength="153.6" lengthAdjust="spacingAndGlyphs">WarOnDisease.org</text>
</svg>
</body></html>
